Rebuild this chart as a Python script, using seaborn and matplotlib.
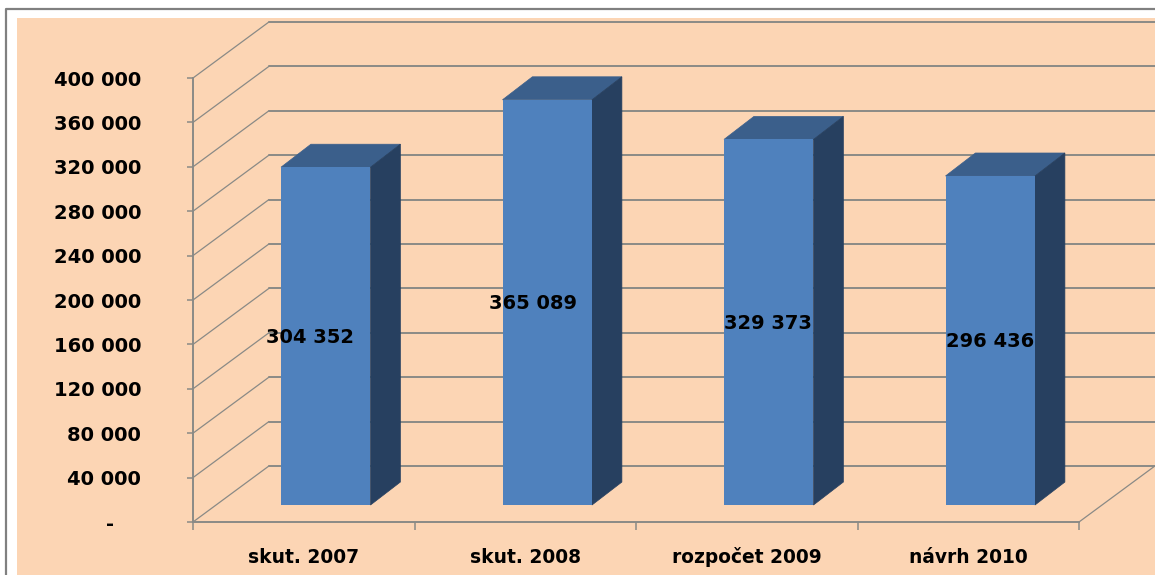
import matplotlib
matplotlib.use("Agg")
import matplotlib.pyplot as plt
import numpy as np
import pandas as pd
import seaborn as sns
from matplotlib.patches import Polygon, Rectangle

categories = ["skut. 2007", "skut. 2008", "rozpočet 2009", "návrh 2010"]
values = [304352, 365089, 329373, 296436]
value_labels = ["304 352", "365 089", "329 373", "296 436"]
yticks = [0, 40000, 80000, 120000, 160000, 200000, 240000, 280000, 320000, 360000, 400000]

# colours
PEACH = "#FCD5B4"
FRONT = "#4F81BD"
TOP = "#3B5F8B"
SIDE = "#274060"
GRID = "#8A8A86"

W, H = 1155, 575

# 3d look, in data units
wall_dx, wall_dy = 0.343, 50500
bar_shift_x, bar_shift_y = 0.0993, 15300
bar_dx, bar_dy = 0.135, 20700
# the labels do not sit quite in the middle of the bars (pixels)
label_shift = [-16, -14, -1, 0]

sns.set_theme(style="white")
plt.rcParams["font.family"] = ["DejaVu Sans"]
plt.rcParams["font.weight"] = "bold"

df = pd.DataFrame({"cat": categories, "val": values})

fig = plt.figure(figsize=(W / 100, H / 100), dpi=100, facecolor="white")
fig.add_artist(Rectangle((17 / W, 0), 1, 1 - 18 / H, transform=fig.transFigure, fc=PEACH, ec="none", zorder=-5))
fig.add_artist(plt.Line2D([6 / W, 6 / W, 1], [0, 1 - 9 / H, 1 - 9 / H], transform=fig.transFigure,
                          color="#808080", lw=1.6, zorder=-4))

ax = fig.add_axes([193 / W, 1 - 522 / H, 886 / W, 444 / H])
ax.patch.set_alpha(0)

sns.barplot(data=df, x="cat", y="val", color=FRONT, saturation=1, width=0.404, ax=ax, zorder=3,
            edgecolor="none", linewidth=0)

ax.set_xlim(-0.5, 3.5)
ax.set_ylim(0, 400000)

# back wall lines and the diagonals on the side wall
for v in yticks:
    ax.plot([-0.5, -0.5 + wall_dx], [v, v + wall_dy], color=GRID, lw=0.9, clip_on=False, zorder=1)
    ax.plot([-0.5 + wall_dx, 3.5 + wall_dx], [v + wall_dy, v + wall_dy], color=GRID, lw=1.4,
            clip_on=False, zorder=1)
ax.plot([3.5, 3.5 + wall_dx], [0, wall_dy], color=GRID, lw=0.9, clip_on=False, zorder=1)

# move the bars back and add their top and side faces
for p, lab, shift in zip(ax.patches, value_labels, label_shift):
    p.set_x(p.get_x() + bar_shift_x)
    p.set_y(bar_shift_y)
    p.set_clip_on(False)
    x0, x1 = p.get_x(), p.get_x() + p.get_width()
    y0, y1 = p.get_y(), p.get_y() + p.get_height()
    # under the front face, with an edge so no grid line shows through the seams
    ax.add_patch(Polygon([(x0, y1), (x1, y1), (x1 + bar_dx, y1 + bar_dy), (x0 + bar_dx, y1 + bar_dy)],
                         fc=TOP, ec=TOP, lw=0.5, clip_on=False, zorder=2.8))
    ax.add_patch(Polygon([(x1, y0), (x1 + bar_dx, y0 + bar_dy), (x1 + bar_dx, y1 + bar_dy), (x1, y1)],
                         fc=SIDE, ec=SIDE, lw=0.5, clip_on=False, zorder=2.9))
    ax.annotate(lab, ((x0 + x1) / 2, (y0 + y1) / 2), xytext=(shift, -1), textcoords="offset pixels",
                ha="center", va="center", fontsize=14, fontweight="bold", color="black", zorder=5,
                annotation_clip=False)

ax.set_xlabel("")
ax.set_ylabel("")
ax.set_xticks(range(len(categories)))
ax.set_xticklabels(categories, va="baseline")
ax.set_xticks(np.arange(-0.5, 4), minor=True)
ax.set_yticks(yticks)
ax.set_yticklabels([f"{v:,}".replace(",", " ") if v else "-    " for v in yticks])

ax.tick_params(axis="x", which="major", length=0, pad=29.5, labelsize=13.4, labelcolor="black")
ax.tick_params(axis="x", which="minor", length=5.8, width=1.1, color=GRID, bottom=True)
ax.tick_params(axis="y", length=4.3, width=1.1, color=GRID, left=True, pad=33, labelsize=14, labelcolor="black")

for side in ["top", "right"]:
    ax.spines[side].set_visible(False)
for side in ["left", "bottom"]:
    ax.spines[side].set_color(GRID)
    ax.spines[side].set_linewidth(1.4)
    ax.spines[side].set_zorder(2)

fig.savefig("out.png", dpi=100, facecolor=fig.get_facecolor())
